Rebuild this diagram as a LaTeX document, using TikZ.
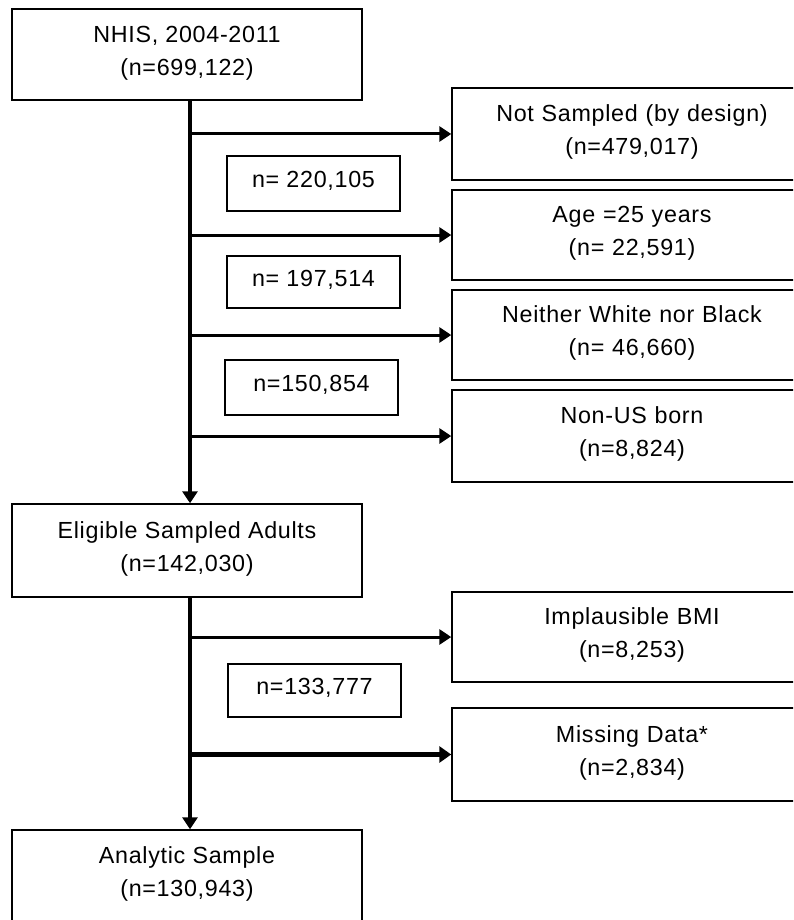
\documentclass[tikz,border=0pt]{standalone}
\usepackage{fontspec}
\setmainfont{Liberation Sans}[LetterSpace=3]
\usetikzlibrary{arrows.meta}
\begin{document}
\begin{tikzpicture}[x=1pt,y=-1pt,
  box/.style={draw=black,line width=1.5pt,rectangle,inner sep=0pt,align=center,
    font=\fontsize{23.3}{33}\selectfont,
    execute at end node={\rule[-8pt]{0pt}{0pt}}},
  leftbox/.style={box,minimum width=350pt,minimum height=92pt},
  rightbox/.style={box,minimum width=360pt,minimum height=91pt,text width=340pt},
  nbox/.style={box,minimum width=173pt,minimum height=54pt},
  spinearr/.style={line width=3.6pt,-{Triangle[length=12pt,width=15pt]}},
  arr/.style={line width=3pt,-{Triangle[length=12pt,width=15pt]}},
  thickarr/.style={line width=4.4pt,-{Triangle[length=12pt,width=16pt]}}
]
\useasboundingbox (0,0) rectangle (793,920);
\clip (0,0) rectangle (793,920);
% left column
\node[leftbox,minimum height=91pt] (top) at (187,54.5) {NHIS, 2004-2011\\(n=699,122)};
\node[leftbox,minimum height=93pt] (elig) at (187,550.5) {Eligible Sampled Adults\\(n=142,030)};
\node[leftbox] (anal) at (187,876) {Analytic Sample\\(n=130,943)};
% right column (extends beyond the right margin)
\node[rightbox,minimum height=92pt] (ns) at (632,134) {Not Sampled (by design)\\(n=479,017)};
\node[rightbox,minimum height=90pt] (age) at (632,235) {Age =25 years\\(n= 22,591)};
\node[rightbox,minimum height=90pt] (nwb) at (632,335) {Neither White nor Black\\(n= 46,660)};
\node[rightbox,minimum height=92pt] (nus) at (632,436) {Non-US born\\(n=8,824)};
\node[rightbox,minimum height=90pt] (bmi) at (632,637) {Implausible BMI\\(n=8,253)};
\node[rightbox,minimum height=93pt] (miss) at (632,754.5) {Missing Data*\\(n=2,834)};
% count boxes
\node[nbox,minimum height=55pt] (n1) at (313.5,183.5) {n= 220,105};
\node[nbox,minimum height=52pt] (n2) at (313.5,282) {n= 197,514};
\node[nbox,minimum height=55pt] (n3) at (311.5,387.5) {n=150,854};
\node[nbox,minimum height=53pt] (n4) at (314.5,690.5) {n=133,777};
% spine
\coordinate (sp) at (190,0);
\draw[spinearr] (top.south -| sp) -- (elig.north -| sp);
\draw[spinearr] (elig.south -| sp) -- (anal.north -| sp);
% exclusion arrows
\draw[arr] (sp |- ns.west) -- (ns.west);
\draw[arr] (sp |- age.west) -- (age.west);
\draw[arr] (sp |- nwb.west) -- (nwb.west);
\draw[arr] (sp |- nus.west) -- (nus.west);
\draw[arr] (sp |- bmi.west) -- (bmi.west);
\draw[thickarr] (sp |- miss.west) -- (miss.west);
\end{tikzpicture}
\end{document}
